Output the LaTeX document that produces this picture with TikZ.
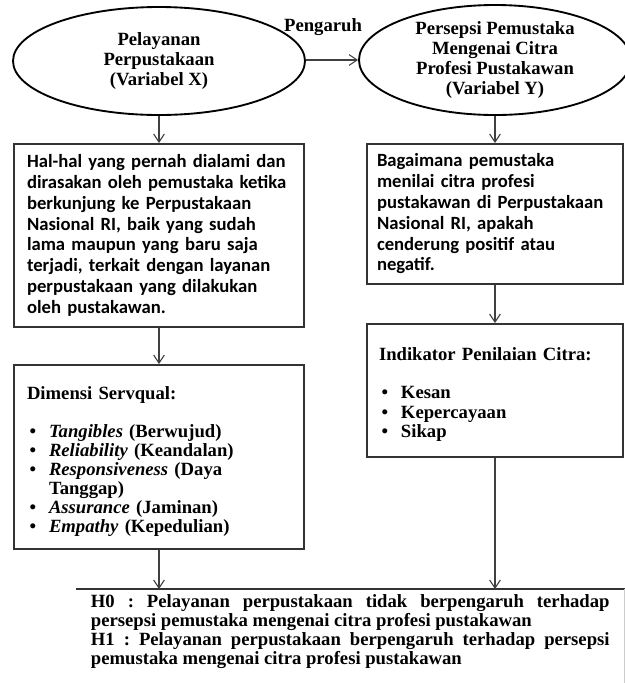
\documentclass[tikz,border=0pt]{standalone}
\usepackage{fontspec}
\setmainfont{Liberation Serif}
\newfontfamily\calibri{Carlito}
\usetikzlibrary{shapes.geometric,arrows.meta}
\newcommand{\bulit}[1]{\makebox[16.5pt][l]{\hspace{2pt}\textbullet}#1}
\newcommand{\topstrut}{\rule{0pt}{16pt}}

\begin{document}
\begin{tikzpicture}[x=0.75pt,y=-0.75pt,>={Straight Barb[length=6pt,width=8pt]},
  every node/.style={font=\bfseries\fontsize{14}{14.25}\selectfont},
  var/.style={ellipse,draw,line width=1.4pt,align=center,inner sep=0pt,
    font=\bfseries\fontsize{14}{15}\selectfont},
  box/.style={draw=black!80,line width=1.5pt,align=left,inner ysep=4pt},
  cal/.style={font=\calibri\bfseries\fontsize{14}{15.6}\selectfont},
  link/.style={->,draw=black!75,line width=0.8pt}]
 \useasboundingbox (0,0) rectangle (625,683);
 \node[var,minimum width=219pt,minimum height=81pt] (varx) at (159,61) {Pelayanan\\Perpustakaan\\(Variabel X)};
 \node[var,minimum width=204pt,minimum height=82.5pt] (vary) at (495,60) {Persepsi Pemustaka\\Mengenai Citra\\Profesi Pustakawan\\(Variabel Y)};
 \node (pengaruh) at (323,27) {Pengaruh};
 \node[box,cal,text width=198pt,inner xsep=9.75pt,minimum height=137.25pt] (hal) at (159,235.5)
  {Hal-hal yang pernah dialami dan\\dirasakan oleh pemustaka ketika\\berkunjung ke Perpustakaan\\Nasional RI, baik yang sudah\\lama maupun yang baru saja\\terjadi, terkait dengan layanan\\perpustakaan yang dilakukan\\oleh pustakawan.};
 \node[box,cal,text width=177pt,inner xsep=7.5pt,minimum height=105pt] (bag) at (495,214)
  {Bagaimana pemustaka\\menilai citra profesi\\pustakawan di Perpustakaan\\Nasional RI, apakah\\cenderung positif atau\\negatif.};
 \node[box,text width=198pt,inner xsep=9.75pt,minimum height=138pt] (dim) at (159,457)
  {\topstrut Dimensi Servqual:\\[14.25pt]
   \bulit{\textit{Tangibles} (Berwujud)}\\
   \bulit{\textit{Reliability} (Keandalan)}\\
   \bulit{\textit{Responsiveness} (Daya}\\
   \hspace*{16.5pt}Tanggap)\\
   \bulit{\textit{Assurance} (Jaminan)}\\
   \bulit{\textit{Empathy} (Kepedulian)}};
 \node[box,text width=174pt,inner xsep=9pt,minimum height=99.75pt] (ind) at (495,390.5)
  {\topstrut Indikator Penilaian Citra:\\[14.25pt]
   \bulit{Kesan}\\[0.4pt]
   \bulit{Kepercayaan}\\
   \bulit{Sikap}};
 \node[anchor=north west,text width=389pt,minimum width=411pt,inner ysep=4pt,align=justify] (hyp) at (76,589)
  {\frenchspacing\tolerance=10000\hyphenpenalty=10000\parindent=0pt
   H0 : Pelayanan perpustakaan tidak berpengaruh terhadap\linebreak persepsi pemustaka mengenai citra profesi pustakawan\par
   H1 : Pelayanan perpustakaan berpengaruh terhadap persepsi\linebreak pemustaka mengenai citra profesi pustakawan};
 \draw[draw=black!80,line width=1.5pt] (hyp.north west) -- (hyp.north east);
 \draw[black!20,line width=1pt] (hyp.north east) -- (hyp.north east |- 0,683);

 \draw[link] (varx.east |- vary) -- (vary);
 \foreach \from/\to in {varx/hal,hal/dim,dim/hyp,vary/bag,bag/ind,ind/hyp}
  \draw[link] (\from) -- (\from |- \to.north);
\end{tikzpicture}
\end{document}
